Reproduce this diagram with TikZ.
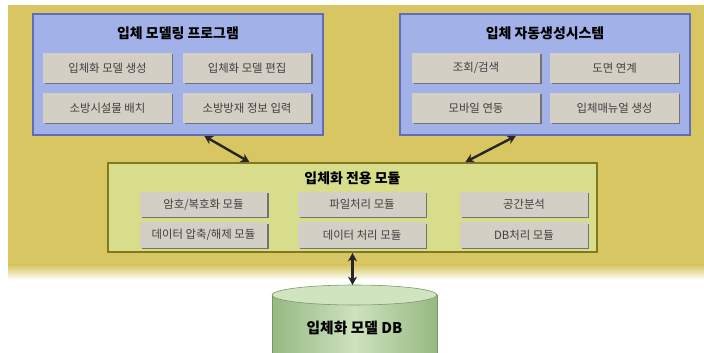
\documentclass[tikz,border=0pt]{standalone}
\usepackage{fontspec}
\setmainfont{Noto Sans CJK KR}
\usetikzlibrary{calc,arrows.meta,shadows}
\definecolor{bgyellow}{RGB}{215,198,98}
\definecolor{progfill}{RGB}{162,178,232}
\definecolor{progedge}{RGB}{96,110,186}
\definecolor{funcfill}{RGB}{212,207,196}
\definecolor{corefill}{RGB}{215,221,138}
\definecolor{coreedge}{RGB}{128,122,30}
\definecolor{dbside}{RGB}{150,185,130}
\definecolor{dblight}{RGB}{205,226,190}
\definecolor{dbtopfill}{RGB}{208,228,192}
\definecolor{dbedge}{RGB}{120,150,100}

\begin{document}
\begin{tikzpicture}[x=0.025cm,y=-0.025cm,
  program/.style={draw=progedge,line width=1.4pt,fill=progfill,minimum width=7.25cm,minimum height=3.025cm},
  core/.style={draw=coreedge,line width=1.4pt,fill=corefill,minimum width=12.225cm,minimum height=2.225cm},
  title/.style={font=\fontsize{9.9}{11}\selectfont\bfseries,text=black},
  func/.style={fill=funcfill,minimum width=3.2cm,minimum height=0.75cm,inner sep=0pt,
    font=\fontsize{8.1}{10}\selectfont,text=black!75,
    drop shadow={shadow xshift=1.3pt,shadow yshift=-0.8pt,fill=black!55,opacity=1}},
  module/.style={func,minimum width=3.175cm,minimum height=0.625cm},
  link/.style={{Stealth[length=6pt,width=6.5pt]}-{Stealth[length=6pt,width=6.5pt]},line width=1.7pt,draw=black!85}]
\useasboundingbox (0,0) rectangle (704,353);
\clip (0,0) rectangle (704,353);
\fill[bgyellow] (8,5) rectangle (704,265);
\shade[top color=bgyellow,bottom color=white] (8,265) rectangle (704,280);

\node[program] (prog) at (178,74.5) {};
\node[title] (progtitle) at (178,33) {입체 모델링 프로그램};
\node[func] (p1) at (107.5,68) {입체화 모델 생성};
\node[func] (p2) at (247,68) {입체화 모델 편집};
\node[func] (p3) at (107.5,108) {소방시설물 배치};
\node[func] (p4) at (247,108) {소방방재 정보 입력};

\node[program] (sys) at (545,74.5) {};
\node[title] (systitle) at (545,33) {입체 자동생성시스템};
\node[func] (s1) at (476,68) {조회/검색};
\node[func] (s2) at (614.5,68) {도면 연계};
\node[func] (s3) at (476,108) {모바일 연동};
\node[func] (s4) at (614.5,108) {입체매뉴얼 생성};

\node[core] (core) at (352.5,207.5) {};
\node[title] (coretitle) at (352.5,178) {입체화 전용 모듈};
\node[module] (m1) at (203.5,204.5) {암호/복호화 모듈};
\node[module] (m2) at (362,204.5) {파일처리 모듈};
\node[module] (m3) at (524,204.5) {공간분석};
\node[module] (m4) at (203.5,235) {데이터 압축/해제 모듈};
\node[module] (m5) at (362,235) {데이터 처리 모듈};
\node[module] (m6) at (524,235) {DB처리 모듈};

\shade[left color=dbside,right color=dbside,middle color=dblight,draw=dbedge] (272,295) rectangle (437,360);
\filldraw[fill=dbtopfill,draw=dbedge] (354.5,295) ellipse (2.0625cm and 0.25cm);
\coordinate (dbtop) at (352.5,285);
\node[font=\fontsize{10.5}{12}\selectfont\bfseries] (db) at (354.5,328) {입체화 모델 DB};

\draw[link] ($(prog.south west)!0.59!(prog.south east)$) -- ($(core.north west)!0.29!(core.north east)$);
\draw[link] ($(sys.south west)!0.4!(sys.south east)$) -- ($(core.north west)!0.73!(core.north east)$);
\draw[link] (core.south) -- (dbtop);
\end{tikzpicture}
\end{document}
